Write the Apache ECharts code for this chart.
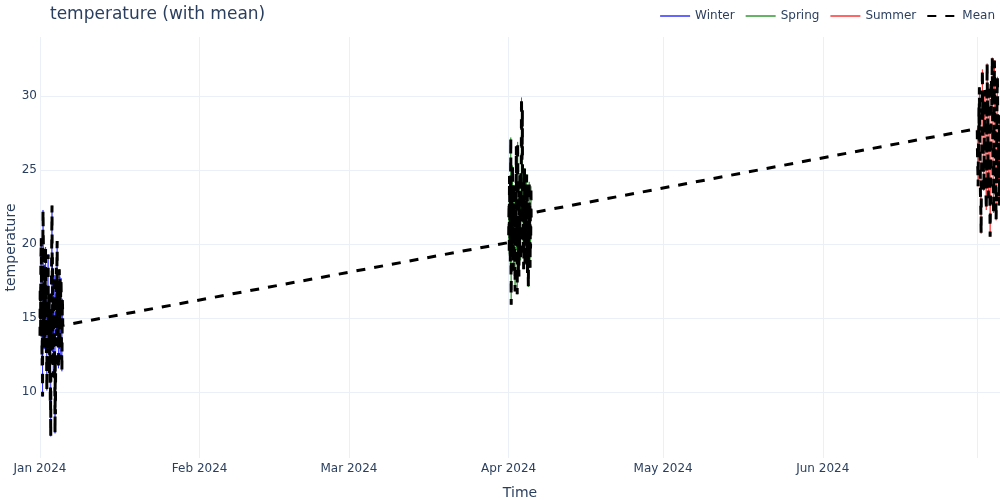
<!DOCTYPE html>
<html lang="en">

<head>
  <meta charset="utf-8">
  <title>temperature (with mean)</title>
  <style>
    * {
      margin: 0;
      padding: 0;
    }

    #chart-container {
      position: relative;
      width: 1000px;
      height: 500px;
      overflow: hidden;
    }
  </style>
</head>

<body>
  <div id="chart-container"></div>
  <script src="https://fastly.jsdelivr.net/npm/echarts@6/dist/echarts.min.js"></script>
  <script>
    // hourly readings, starting at the first day of each season block
    const stepHours = 1;
    const winterStart = [2024, 0, 1];
    const springStart = [2024, 3, 1];
    const summerStart = [2024, 6, 1];

    const winterTemps = [
      13.8, 17.1, 16.2, 14.3, 18.9, 19.5, 20.4, 16.8, 15.1, 13.2,
      11.8, 15.7, 9.7, 18.8, 22.3, 20.9, 19.6, 14.6, 17.4, 16.1,
      12.9, 18.6, 14.6, 13.5, 18.1, 15.9, 19.8, 17.3, 16.7, 14.1,
      12.3, 11.9, 10.1, 16.4, 13.9, 15.2, 17.6, 18.0, 19.3, 13.7,
      15.8, 14.4, 12.6, 16.6, 11.2, 12.4, 14.9, 11.5, 9.4, 10.3,
      7.0, 15.6, 12.8, 16.9, 18.7, 20.8, 22.6, 17.2, 19.1, 12.7,
      15.3, 14.8, 11.0, 16.5, 13.6, 15.0, 17.9, 14.4, 12.1, 10.6,
      7.2, 11.9, 8.5, 12.5, 14.2, 17.0, 18.4, 13.8, 16.0, 18.9,
      20.2, 14.3, 16.8, 15.5, 13.1, 17.4, 11.6, 13.0, 15.4, 16.2,
      18.3, 12.9, 14.7, 17.8, 12.2, 14.0, 16.9, 15.1, 17.7, 16.4,
      13.4, 12.8, 11.4, 13.7, 16.3, 15.8, 14.5
    ];
    const springTemps = [
      20.1, 21.7, 22.8, 19.3, 24.6, 23.0, 21.3, 20.2, 18.7, 24.1,
      27.2, 18.5, 15.9, 22.6, 19.4, 21.0, 23.1, 19.8, 25.3, 23.4,
      21.9, 20.9, 18.2, 22.3, 20.6, 18.8, 24.0, 21.5, 22.4, 19.2,
      16.8, 22.7, 19.9, 20.4, 23.7, 24.4, 26.6, 19.6, 21.2, 22.1,
      16.6, 20.8, 26.9, 24.9, 23.5, 18.1, 19.0, 21.8, 17.8, 23.6,
      21.6, 19.5, 24.8, 20.1, 22.0, 22.5, 18.9, 21.3, 20.7, 25.8,
      29.9, 27.4, 25.7, 26.2, 29.1, 21.9, 23.3, 20.6, 19.6, 22.2,
      18.3, 19.1, 22.9, 23.7, 25.1, 20.0, 21.4, 22.8, 18.6, 19.4,
      20.3, 21.6, 23.8, 22.9, 24.7, 20.7, 19.8, 23.2, 17.9, 19.7,
      21.1, 18.4, 17.1, 21.4, 20.5, 22.4, 24.2, 20.9, 22.6, 21.2,
      18.4, 22.0, 19.7, 20.3, 23.9, 21.8, 22.1
    ];
    const summerTemps = [
      27.8, 26.3, 25.4, 24.8, 23.9, 25.5, 26.7, 28.1, 29.3, 27.0,
      30.6, 29.2, 27.1, 25.7, 24.2, 23.3, 22.8, 21.9, 20.7, 23.8,
      24.9, 26.6, 28.5, 30.2, 31.8, 28.4, 29.7, 27.2, 26.3, 24.6,
      23.6, 24.3, 25.8, 27.5, 28.9, 29.6, 30.4, 28.8, 27.4, 25.9,
      24.5, 23.2, 22.3, 24.0, 26.1, 29.4, 32.2, 30.5, 29.0, 27.1,
      25.6, 24.1, 23.1, 25.3, 27.9, 29.3, 30.8, 27.7, 24.7, 22.6,
      20.5, 22.0, 23.4, 25.8, 28.2, 29.9, 31.1, 30.3, 29.4, 30.9,
      32.6, 29.7, 27.6, 25.6, 24.0, 23.0, 22.1, 24.4, 26.5, 29.1,
      32.4, 31.0, 30.1, 28.3, 26.9, 25.0, 23.7, 22.5, 21.6, 23.5,
      25.2, 27.6, 29.8, 30.7, 31.3, 29.5, 27.3, 25.8, 24.4, 25.7,
      26.8, 24.9, 22.6, 25.4, 28.7, 27.0, 25.9
    ];

    const monthLabels = ['Jan 2024', 'Feb 2024', 'Mar 2024', 'Apr 2024', 'May 2024', 'Jun 2024'];

    var dom = document.getElementById('chart-container');
    var myChart = echarts.init(dom, null, {
      renderer: 'canvas',
      useDirtyRect: false
    });

    function toPoints(start, temps) {
      var t0 = new Date(start[0], start[1], start[2]).getTime();
      return temps.map(function (v, i) {
        return [t0 + i * stepHours * 3600 * 1000, v];
      });
    }

    var winter = toPoints(winterStart, winterTemps);
    var spring = toPoints(springStart, springTemps);
    var summer = toPoints(summerStart, summerTemps);
    var mean = winter.concat(spring, summer);

    var textColor = '#2a3f5f';
    var gridColor = '#EBF0F8';
    var font = 'verdana, "DejaVu Sans", sans-serif';

    function seasonLine(name, color, data) {
      return {
        name: name,
        type: 'line',
        data: data,
        symbol: 'none',
        animation: false,
        lineStyle: { color: color, width: 1 },
        itemStyle: { color: color }
      };
    }

    var option = {
      textStyle: { fontFamily: font },
      title: {
        text: 'temperature (with mean)',
        left: 50,
        top: 6,
        padding: 0,
        textStyle: { color: textColor, fontSize: 17, fontWeight: 'normal', fontFamily: font }
      },
      legend: {
        right: 5,
        top: 10,
        padding: 0,
        itemWidth: 30,
        itemHeight: 14,
        itemGap: 10,
        itemStyle: { opacity: 0 },
        textStyle: { color: textColor, fontSize: 12, fontFamily: font },
        data: ['Winter', 'Spring', 'Summer', 'Mean']
      },
      grid: {
        left: 40,
        right: 0,
        top: 37,
        bottom: 42,
        outerBoundsMode: 'none'
      },
      xAxis: {
        type: 'time',
        min: winter[0][0],
        max: summer[summer.length - 1][0],
        name: 'Time',
        nameLocation: 'middle',
        nameGap: 28,
        nameMoveOverlap: false,
        nameTextStyle: { color: textColor, fontSize: 14, fontFamily: font },
        axisLine: { show: false },
        axisTick: { show: false },
        splitLine: { show: true, showMaxLine: false, lineStyle: { color: gridColor, width: 1 } },
        axisLabel: {
          color: textColor,
          fontSize: 12,
          margin: 5,
          hideOverlap: false,
          formatter: function (value) {
            var d = new Date(value);
            if (d.getDate() !== 1 || d.getHours() !== 0 || d.getMonth() >= monthLabels.length) {
              return '';
            }
            return monthLabels[d.getMonth()];
          }
        }
      },
      yAxis: {
        type: 'value',
        min: 5.54,
        max: 33.99,
        name: 'temperature',
        nameLocation: 'middle',
        nameGap: 22,
        nameMoveOverlap: false,
        nameTextStyle: { color: textColor, fontSize: 14, fontFamily: font },
        axisLine: { show: false },
        axisTick: { show: false },
        splitLine: { show: true, showMinLine: false, showMaxLine: false, lineStyle: { color: gridColor, width: 1 } },
        axisLabel: {
          color: textColor,
          fontSize: 12,
          margin: 3,
          showMinLabel: false,
          showMaxLabel: false
        }
      },
      series: [
        seasonLine('Winter', 'rgba(0,0,255,0.6)', winter),
        seasonLine('Spring', 'rgba(0,128,0,0.6)', spring),
        seasonLine('Summer', 'rgba(255,0,0,0.6)', summer),
        {
          name: 'Mean',
          type: 'line',
          data: mean,
          symbol: 'none',
          animation: false,
          lineStyle: { color: '#000000', width: 3, type: [9, 9] },
          itemStyle: { color: '#000000' }
        }
      ]
    };

    myChart.setOption(option);

    window.addEventListener('resize', myChart.resize);
  </script>
</body>

</html>
